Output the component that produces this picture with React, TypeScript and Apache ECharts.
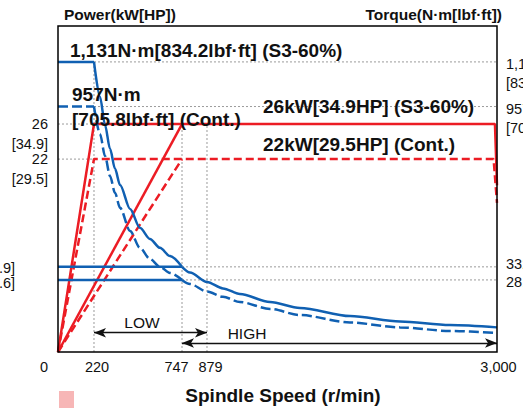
import React, { useEffect, useRef } from "react";
import * as echarts from "echarts";

// ---- data ----
const RPM_TICKS = [0, 220, 747, 879, 3000];
const POWER_TICKS = [26, 22];
const HP_LABELS = ["34.9", "29.5"];
const TORQUE_TICKS = [1131, 957, 332, 281];
const LBF_LABELS = ["834.2", "705.8", "244.9", "207.3"];

// torque curves [rpm, N·m]
const LOW_S3_TORQUE = [[0, 1131], [220, 1131], [256, 995], [286, 885], [316, 792], [346, 714], [376, 651], [436, 558], [495, 484], [555, 441], [615, 406], [675, 374], [747, 332]];
const LOW_CONT_TORQUE = [[0, 957], [220, 957], [256, 850], [286, 764], [316, 686], [346, 620], [376, 562], [436, 472], [495, 406], [555, 363], [615, 332], [675, 308], [747, 281]];
const HIGH_S3_TORQUE = [[0, 332], [747, 332], [789, 310], [879, 273], [996, 248], [1120, 226], [1340, 195], [1559, 172], [1925, 140], [2291, 119], [2656, 105], [3000, 96]];
const HIGH_CONT_TORQUE = [[0, 281], [747, 281], [789, 265], [879, 236], [996, 215], [1120, 195], [1340, 168], [1559, 144], [1925, 115], [2291, 96], [2656, 82], [3000, 74]];

// power curves [rpm, kW]
const S3_POWER_LOW = [[0, 0], [220, 26], [2985, 26], [3000, 19]];
const S3_POWER_HIGH = [[0, 0], [747, 26]];
const CONT_POWER_LOW = [[0, 0], [220, 22], [2975, 22], [3000, 17]];
const CONT_POWER_HIGH = [[0, 0], [747, 22]];

// speed ranges [from rpm, to rpm]
const LOW_RANGE = [220, 879];
const HIGH_RANGE = [747, 3000];

// ---- scales / style config ----
// the printed speed axis is schematic: ticks are not evenly spaced
const RPM_BREAKS = [0, 220, 747, 879, 3000];
const AXIS_BREAKS = [0, 246, 847.4, 1018.2, 3000];
function warp(r: number): number {
  for (let i = 0; i < RPM_BREAKS.length - 1; i++) {
    const a = RPM_BREAKS[i], b = RPM_BREAKS[i + 1];
    if (r <= b || i === RPM_BREAKS.length - 2) {
      const t = (r - a) / (b - a);
      return AXIS_BREAKS[i] + t * (AXIS_BREAKS[i + 1] - AXIS_BREAKS[i]);
    }
  }
  return r;
}
const POWER_MAX = 37.18;
const TORQUE_MAX = 1271;
const X_LABEL_SHIFT = [-14, 3, -5.5, 3.5, 1.5];
const TORQUE_LABEL_SHIFT = [2, 2.5, -2.5, 2];
const ARROW_LEVEL_LOW = 2.2; // kW axis
const ARROW_LEVEL_HIGH = 1.03;

const FONT = '"Liberation Sans", Arial, Helvetica, sans-serif';
const BLUE = "#1060b2";
const RED = "#ec1c24";
const GRID_GRAY = "#9a9a9a";
const INK = "#111";
const fmt = (n: number) => n.toLocaleString("en-US");
const shiftPad = (s: number) => (s >= 0 ? [2 * s, 0, 0, 0] : [0, 0, -2 * s, 0]);
const shiftPadX = (s: number) => (s >= 0 ? [0, 0, 0, 2 * s] : [0, -2 * s, 0, 0]);

function lineSeries(pts: number[][], yAxisIndex: number, color: string, type: any, z: number, smooth = false, extra: any = {}) {
  return {
    type: "line",
    xAxisIndex: 0,
    yAxisIndex,
    data: pts.map(([r, v]) => [warp(r), v]),
    symbol: "none",
    smooth: smooth ? 0.3 : false,
    smoothMonotone: "x",
    lineStyle: { color, width: 2.5, type },
    silent: true,
    z,
    ...extra,
  };
}
function torqueCurve(pts: number[][], color: string, flatType: any, curveType: any) {
  return [
    lineSeries(pts.slice(0, 2), 1, color, flatType, 4),
    lineSeries(pts.slice(1), 1, color, curveType, 4, true),
  ];
}
function guide(a: number[], b: number[], yAxisIndex: number) {
  return {
    type: "line",
    yAxisIndex,
    data: [[warp(a[0]), a[1]], [warp(b[0]), b[1]]],
    symbol: "none",
    lineStyle: { color: GRID_GRAY, width: 1, type: [2, 2] },
    silent: true,
    z: 1,
  };
}
function txt(x: number, y: number, text: string, font: string, align = "left") {
  return {
    type: "text",
    x,
    y,
    z: 100,
    style: { text, font, fill: INK, align, verticalAlign: "middle", textAlign: align, textVerticalAlign: "middle" },
  };
}
function valueAxis(max: number, position: string, axisLabel: any) {
  return {
    type: "value",
    min: 0,
    max,
    position,
    axisLine: { show: false },
    axisTick: { show: false },
    splitLine: { show: false },
    axisLabel: { hideOverlap: false, fontSize: 14.5, fontFamily: FONT, color: INK, ...axisLabel },
  };
}
// torque number labels (each label on its own axis so none is dropped as overlapping)
function torqueNumberAxis(indices: number[], rich: any) {
  return valueAxis(TORQUE_MAX, "right", {
    customValues: indices.map((i) => TORQUE_TICKS[i]),
    margin: 9,
    formatter: (v: number) => {
      const i = TORQUE_TICKS.indexOf(v);
      if (i < 0) return "";
      return i < 2 ? `{t${i}|${fmt(v)}}` : `{t${i}|${fmt(v)}[${LBF_LABELS[i]}]}`;
    },
    rich,
  });
}

function buildOption(): any {
  const guides = [
    guide([220, 0], [220, TORQUE_TICKS[0]], 1),
    guide([747, 0], [747, POWER_TICKS[0]], 0),
    guide([879, 0], [879, POWER_TICKS[0]], 0),
    guide([220, TORQUE_TICKS[0]], [3000, TORQUE_TICKS[0]], 1),
    guide([220, TORQUE_TICKS[1]], [3000, TORQUE_TICKS[1]], 1),
    guide([747, TORQUE_TICKS[2]], [3000, TORQUE_TICKS[2]], 1),
    guide([747, TORQUE_TICKS[3]], [3000, TORQUE_TICKS[3]], 1),
    guide([0, POWER_TICKS[0]], [220, POWER_TICKS[0]], 0),
    guide([0, POWER_TICKS[1]], [220, POWER_TICKS[1]], 0),
  ];
  const xRich: any = {};
  X_LABEL_SHIFT.forEach((s, i) => {
    xRich["s" + i] = { fontSize: 14.5, fontFamily: FONT, color: INK, padding: shiftPadX(s) };
  });
  const tRich: any = {};
  TORQUE_LABEL_SHIFT.forEach((s, i) => {
    tRich["t" + i] = { fontSize: 14.5, fontFamily: FONT, color: INK, lineHeight: 9, padding: shiftPad(s) };
  });
  const dashRed = [8, 4];
  const dashBlue = [10, 4];
  const bold19 = `bold 19px ${FONT}`;
  return {
    animation: false,
    backgroundColor: "#fff",
    grid: {
      left: 58, right: 26, top: 26, bottom: 56,
      show: true, borderColor: "#000", borderWidth: 1.5, backgroundColor: "transparent", z: 10,
      containLabel: false, outerBoundsMode: "none",
    },
    xAxis: {
      type: "value",
      min: 0,
      max: 3000,
      axisLine: { show: false },
      axisTick: { show: false },
      splitLine: { show: false },
      axisLabel: {
        customValues: RPM_TICKS.map(warp),
        hideOverlap: false,
        margin: 7,
        lineHeight: 16,
        formatter: (v: number) => {
          const i = RPM_TICKS.findIndex((t) => Math.abs(warp(t) - v) < 0.01);
          return i < 0 ? "" : `{s${i}|${fmt(RPM_TICKS[i])}}`;
        },
        rich: xRich,
      },
    },
    yAxis: [
      // 0: power, numbers
      valueAxis(POWER_MAX, "left", {
        customValues: POWER_TICKS,
        margin: 10,
        lineHeight: 14,
        formatter: (v: number) => (POWER_TICKS.indexOf(v) < 0 ? "" : `${v}`),
      }),
      // 1: torque, numbers (1,131 / 957 / 332)
      torqueNumberAxis([0, 1, 2], tRich),
      // 2: power, horsepower line under each number
      valueAxis(POWER_MAX, "left", {
        customValues: POWER_TICKS,
        margin: 10,
        verticalAlign: "top",
        lineHeight: 16,
        padding: [12, 0, 0, 0],
        formatter: (v: number) => {
          const i = POWER_TICKS.indexOf(v);
          return i < 0 ? "" : `[${HP_LABELS[i]}]`;
        },
      }),
      // 3: torque, lbf·ft line under the two upper numbers
      valueAxis(TORQUE_MAX, "right", {
        customValues: TORQUE_TICKS.slice(0, 2),
        margin: 9,
        verticalAlign: "top",
        lineHeight: 16,
        padding: [13, 0, 0, 0],
        formatter: (v: number) => {
          const i = TORQUE_TICKS.indexOf(v);
          return i < 0 ? "" : `[${LBF_LABELS[i]}]`;
        },
      }),
      // 4: torque, number 281
      torqueNumberAxis([3], tRich),
    ],
    series: [
      ...guides,
      lineSeries(CONT_POWER_LOW, 0, RED, dashRed, 2),
      lineSeries(CONT_POWER_HIGH, 0, RED, dashRed, 2),
      lineSeries(S3_POWER_LOW, 0, RED, "solid", 3),
      lineSeries(S3_POWER_HIGH, 0, RED, "solid", 3, false, {
        markLine: {
          silent: true,
          symbol: ["arrow", "arrow"],
          symbolSize: [7, 12],
          label: { show: false },
          lineStyle: { color: INK, width: 1.3, type: "solid" },
          data: [
            [{ coord: [warp(LOW_RANGE[0]), ARROW_LEVEL_LOW] }, { coord: [warp(LOW_RANGE[1]), ARROW_LEVEL_LOW] }],
            [{ coord: [warp(HIGH_RANGE[0]), ARROW_LEVEL_HIGH] }, { coord: [warp(HIGH_RANGE[1]), ARROW_LEVEL_HIGH] }],
          ],
        },
      }),
      ...torqueCurve(LOW_S3_TORQUE, BLUE, "solid", "solid"),
      ...torqueCurve(LOW_CONT_TORQUE, BLUE, dashBlue, dashBlue),
      ...torqueCurve(HIGH_S3_TORQUE, BLUE, "solid", "solid"),
      ...torqueCurve(HIGH_CONT_TORQUE, BLUE, "solid", dashBlue),
    ],
    graphic: [
      txt(64, 14, "Power(kW[HP])", `bold 15.5px ${FONT}`),
      txt(502, 14, "Torque(N·m[lbf·ft])", `bold 15.5px ${FONT}`, "right"),
      txt(70, 50, "1,131N·m[834.2lbf·ft] (S3-60%)", bold19),
      txt(72, 94, "957N·m", bold19),
      txt(72, 119, "[705.8lbf·ft] (Cont.)", bold19),
      txt(263, 106.5, "26kW[34.9HP] (S3-60%)", bold19),
      txt(263, 144, "22kW[29.5HP] (Cont.)", bold19),
      txt(142, 322, "LOW", `15.5px ${FONT}`, "center"),
      txt(247, 333, "HIGH", `15.5px ${FONT}`, "center"),
      txt(283, 395, "Spindle Speed (r/min)", `bold 19px ${FONT}`, "center"),
      txt(15, 268, "[244.9]", `14.5px ${FONT}`, "right"),
      txt(15, 283, "[207.6]", `14.5px ${FONT}`, "right"),
      { type: "rect", z: 100, shape: { x: 59, y: 391, width: 15, height: 17 }, style: { fill: "#f7b6b6" } },
    ],
  };
}

export default function App() {
  const ref = useRef<HTMLDivElement>(null);
  useEffect(() => {
    const chart = echarts.init(ref.current!, null, { renderer: "svg" });
    chart.setOption(buildOption());
    return () => chart.dispose();
  }, []);
  return <div ref={ref} style={{ position: "absolute", left: 0, top: 0, width: 523, height: 408, background: "#fff" }} />;
}
